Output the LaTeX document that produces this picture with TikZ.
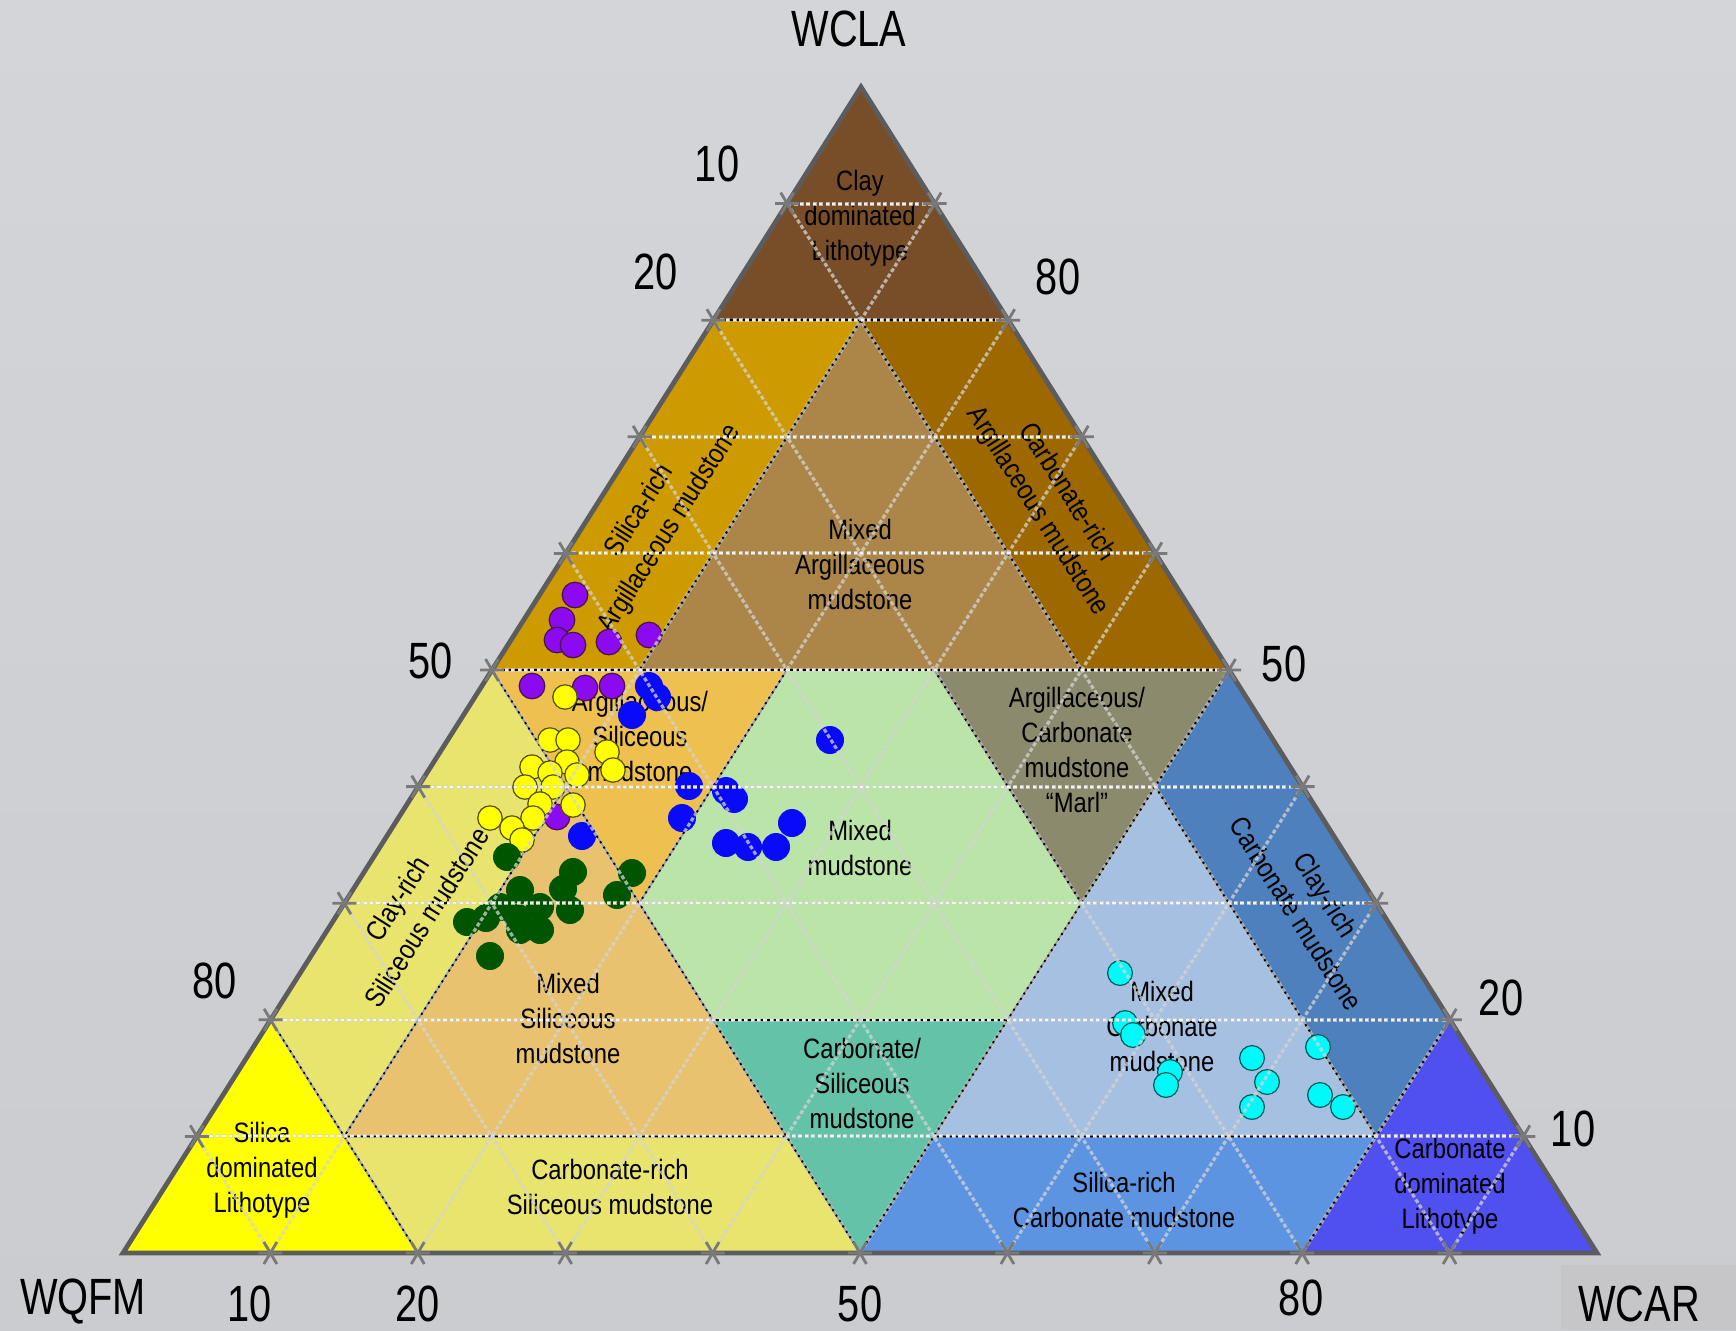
\documentclass[tikz,border=0pt]{standalone}
\usepackage{fontspec}
\setmainfont{Liberation Sans}[FakeStretch=0.85]
\newfontfamily\axisfont{Liberation Sans}[FakeStretch=0.78]
% point of the ternary plot from clay, quartz-feldspar-mica and carbonate fractions
\newcommand\tern[3]{(barycentric cs:A=#1,L=#2,R=#3)}

\definecolor{bgtop}{RGB}{212,213,217}
\definecolor{bgbot}{RGB}{203,204,208}
\definecolor{boxc}{RGB}{198,198,200}
\definecolor{outl}{RGB}{92,92,94}
\definecolor{gridc}{RGB}{212,212,212}
\definecolor{cClayDom}{RGB}{120,78,40}
\definecolor{cSilArg}{RGB}{205,154,0}
\definecolor{cMixArg}{RGB}{172,134,72}
\definecolor{cCarArg}{RGB}{158,104,0}
\definecolor{cArgSil}{RGB}{238,192,80}
\definecolor{cMarl}{RGB}{140,138,108}
\definecolor{cMixMud}{RGB}{186,228,168}
\definecolor{cClaySil}{RGB}{232,228,110}
\definecolor{cMixSil}{RGB}{232,194,110}
\definecolor{cCarbSil}{RGB}{232,228,110}
\definecolor{cSilDom}{RGB}{255,255,0}
\definecolor{cCarSil}{RGB}{100,194,168}
\definecolor{cClayCarb}{RGB}{78,128,190}
\definecolor{cMixCarb}{RGB}{166,192,226}
\definecolor{cSilCarb}{RGB}{92,148,226}
\definecolor{cCarbDom}{RGB}{80,80,240}
\definecolor{cPur}{RGB}{140,10,240}
\definecolor{cPurD}{RGB}{70,20,70}
\definecolor{cYel}{RGB}{255,255,0}
\definecolor{cYelD}{RGB}{80,80,0}
\definecolor{cBlu}{RGB}{10,10,250}
\definecolor{cGrn}{RGB}{0,85,0}
\definecolor{cCya}{RGB}{0,250,250}
\definecolor{cCyaD}{RGB}{0,90,90}

\begin{document}
\begin{tikzpicture}[x=0.5pt,y=-0.5pt,
  bnd/.style={draw=black, line width=0.9pt},
  gridln/.style={draw=gridc, line width=1.6pt, dash pattern=on 2pt off 1.2pt, opacity=0.75},
  gridh/.style={draw=white, line width=1pt, dash pattern=on 1.6pt off 1.6pt, opacity=0.85},
  tickmk/.style={draw=gray!95!black, line width=1.4pt},
  zlab/.style={font=\fontsize{14}{17.5}\selectfont, align=center, inner sep=0pt, text=black},
  axlab/.style={font=\axisfont\fontsize{25.5}{30}\selectfont, inner sep=0pt},
  ptpur/.style={fill=cPur, draw=cPurD, line width=0.6pt},
  ptyel/.style={fill=cYel, draw=cYelD, line width=0.6pt},
  ptblu/.style={fill=cBlu},
  ptgrn/.style={fill=cGrn},
  ptcya/.style={fill=cCya, draw=cCyaD, line width=0.6pt}]

\useasboundingbox (0,0) rectangle (1736,1330);
\shade[top color=bgtop, bottom color=bgbot] (0,0) rectangle (1736,1330);
\fill[boxc] (1561,1265) rectangle (1736,1330);

\coordinate (A) at (861,87);
\coordinate (L) at (123,1253);
\coordinate (R) at (1597,1253);

% classification fields
\fill[cClayDom] \tern{1}{0}{0} -- \tern{.8}{.2}{0} -- \tern{.8}{0}{.2} -- cycle;
\fill[cSilArg] \tern{.8}{.2}{0} -- \tern{.8}{.1}{.1} -- \tern{.5}{.4}{.1} -- \tern{.5}{.5}{0} -- cycle;
\fill[cMixArg] \tern{.8}{.1}{.1} -- \tern{.5}{.4}{.1} -- \tern{.5}{.1}{.4} -- cycle;
\fill[cCarArg] \tern{.8}{0}{.2} -- \tern{.8}{.1}{.1} -- \tern{.5}{.1}{.4} -- \tern{.5}{0}{.5} -- cycle;
\fill[cArgSil] \tern{.5}{.5}{0} -- \tern{.5}{.3}{.2} -- \tern{.3}{.5}{.2} -- cycle;
\fill[cMarl] \tern{.5}{0}{.5} -- \tern{.5}{.2}{.3} -- \tern{.3}{.2}{.5} -- cycle;
\fill[cCarSil] \tern{0}{.5}{.5} -- \tern{.2}{.5}{.3} -- \tern{.2}{.3}{.5} -- cycle;
\fill[cMixMud] \tern{.5}{.3}{.2} -- \tern{.5}{.2}{.3} -- \tern{.3}{.2}{.5} -- \tern{.2}{.3}{.5} -- \tern{.2}{.5}{.3} -- \tern{.3}{.5}{.2} -- cycle;
\fill[cClaySil] \tern{.5}{.5}{0} -- \tern{.4}{.5}{.1} -- \tern{.1}{.8}{.1} -- \tern{.2}{.8}{0} -- cycle;
\fill[cMixSil] \tern{.4}{.5}{.1} -- \tern{.1}{.5}{.4} -- \tern{.1}{.8}{.1} -- cycle;
\fill[cCarbSil] \tern{.1}{.8}{.1} -- \tern{.1}{.5}{.4} -- \tern{0}{.5}{.5} -- \tern{0}{.8}{.2} -- cycle;
\fill[cSilDom] \tern{.2}{.8}{0} -- \tern{0}{1}{0} -- \tern{0}{.8}{.2} -- cycle;
\fill[cClayCarb] \tern{.5}{0}{.5} -- \tern{.4}{.1}{.5} -- \tern{.1}{.1}{.8} -- \tern{.2}{0}{.8} -- cycle;
\fill[cMixCarb] \tern{.4}{.1}{.5} -- \tern{.1}{.4}{.5} -- \tern{.1}{.1}{.8} -- cycle;
\fill[cSilCarb] \tern{.1}{.4}{.5} -- \tern{0}{.5}{.5} -- \tern{0}{.2}{.8} -- \tern{.1}{.1}{.8} -- cycle;
\fill[cCarbDom] \tern{.2}{0}{.8} -- \tern{0}{.2}{.8} -- \tern{0}{0}{1} -- cycle;

% field boundaries
\draw[bnd] \tern{.8}{.2}{0} -- \tern{.8}{0}{.2};
\draw[bnd] \tern{.5}{.5}{0} -- \tern{.5}{0}{.5};
\draw[bnd] \tern{.5}{.4}{.1} -- \tern{.8}{.1}{.1} -- \tern{.5}{.1}{.4};
\draw[bnd] \tern{.5}{.5}{0} -- \tern{0}{.5}{.5} -- \tern{.5}{0}{.5};
\draw[bnd] \tern{.5}{.3}{.2} -- \tern{.3}{.5}{.2};
\draw[bnd] \tern{.5}{.2}{.3} -- \tern{.3}{.2}{.5};
\draw[bnd] \tern{.2}{.5}{.3} -- \tern{.2}{.3}{.5};
\draw[bnd] \tern{.2}{.8}{0} -- \tern{0}{.8}{.2};
\draw[bnd] \tern{.2}{0}{.8} -- \tern{0}{.2}{.8};
\draw[bnd] \tern{.4}{.5}{.1} -- \tern{.1}{.8}{.1} -- \tern{.1}{.5}{.4};
\draw[bnd] \tern{.4}{.1}{.5} -- \tern{.1}{.1}{.8} -- \tern{.1}{.4}{.5};

% field names
\node[zlab] (tClayDom) at (860,218) {Clay\\dominated\\Lithotype};
\node[zlab, rotate=57.6] (tSilArg) at (655,520) {Silica-rich\\Argillaceous mudstone};
\node[zlab] (tMixArg) at (860,564) {Mixed\\Argillaceous\\mudstone};
\node[zlab, rotate=-57.6] (tCarArg) at (1052,502) {Carbonate-rich\\Argillaceous mudstone};
\node[zlab] (tArgSil) at (640,736) {Argillaceous/\\Siliceous\\mudstone};
\node[zlab] (tMixMud) at (860,848) {Mixed\\mudstone};
\node[zlab] (tMarl) at (1077,750) {Argillaceous/\\Carbonate\\mudstone\\“Marl”};
\node[zlab, rotate=57.6] (tClaySil) at (412,908) {Clay-rich\\Siliceous mudstone};
\node[zlab] (tMixSil) at (568,1018) {Mixed\\Siliceous\\mudstone};
\node[zlab] (tSilDom) at (262,1170) {Silica\\dominated\\Lithotype};
\node[zlab] (tCarbSil) at (610,1187) {Carbonate-rich\\Siliceous mudstone};
\node[zlab] (tCarSil) at (862,1083) {Carbonate/\\Siliceous\\mudstone};
\node[zlab] (tMixCarb) at (1162,1026) {Mixed\\Carbonate\\mudstone};
\node[zlab, rotate=-57.6] (tClayCarb) at (1311,904) {Clay-rich\\Carbonate mudstone};
\node[zlab] (tSilCarb) at (1124,1200) {Silica-rich\\Carbonate mudstone};
\node[zlab] (tCarbDom) at (1450,1186) {Carbonate\\dominated\\Lithotype};

% samples
\foreach \x/\y in {575/595,562/620,557/640,573/645,609/642,649/635,532/686,585/688,612/686,557/817}
  \path[ptpur] (\x,\y) circle[radius=6.4pt];
\foreach \x/\y in {565/697,550/740,568/740,607/752,613/770,567/762,532/767,550/773,577/775,525/787,553/787,540/804,573/805,533/818,490/818,512/828,522/840}
  \path[ptyel] (\x,\y) circle[radius=6.1pt];
\foreach \x/\y in {649/686,657/697,632/715,689/786,726/791,734/799,682/818,582/836,726/843,748/847,776/847,792/823,830/740}
  \path[ptblu] (\x,\y) circle[radius=7pt];
\foreach \x/\y in {507/857,573/872,632/873,520/890,563/889,617/895,500/907,540/907,570/910,467/922,486/918,518/918,540/930,490/956,520/930}
  \path[ptgrn] (\x,\y) circle[radius=7pt];
\foreach \x/\y in {1120/973,1125/1023,1133/1035,1170/1072,1166/1085,1252/1058,1267/1082,1252/1107,1318/1047,1320/1095,1343/1107}
  \path[ptcya] (\x,\y) circle[radius=6.2pt];

% 10 % grid in the three directions
\foreach \k in {1,...,9}{
  \pgfmathsetmacro\i{\k/10}
  \pgfmathsetmacro\j{1-\k/10}
  \draw[gridln] \tern{\j}{\i}{0} -- \tern{0}{\i}{\j};
  \draw[gridln] \tern{\j}{0}{\i} -- \tern{0}{\j}{\i};
  \draw[gridln, line width=2pt] \tern{\i}{\j}{0} -- \tern{\i}{0}{\j};
  \draw[gridh, yshift=0.5pt] \tern{\i}{\j}{0} -- \tern{\i}{0}{\j};
}

% outline of the diagram
\draw[draw=outl, line width=2.4pt, line join=miter] (A) -- (L) -- (R) -- cycle;

% tick marks on the three sides
\foreach \k in {1,...,9}{
  \pgfmathsetmacro\i{\k/10}
  \pgfmathsetmacro\j{1-\k/10}
  \foreach \pt in {\tern{\j}{\i}{0}, \tern{\j}{0}{\i}, \tern{0}{\j}{\i}}{
    \draw[tickmk] \pt ++(-12,0) -- ++(24,0) \pt ++(-6.5,-11) -- ++(13,22) \pt ++(6.5,-11) -- ++(-13,22);
  }
}

% axis names and scale values
\node[axlab] (nCla) at (849,29) {WCLA};
\node[axlab] (nQfm) at (83,1301) {WQFM};
\node[axlab] (nCar) at (1639,1304) {WCAR};
\node[axlab] (l10) at (717,164) {10};
\node[axlab] (l20) at (656,272) {20};
\node[axlab] (l50) at (431,661) {50};
\node[axlab] (l80) at (215,981) {80};
\node[axlab] (r80) at (1058,277) {80};
\node[axlab] (r50) at (1284,664) {50};
\node[axlab] (r20) at (1501,998) {20};
\node[axlab] (r10) at (1573,1129) {10};
\node[axlab] (b10) at (250,1304) {10};
\node[axlab] (b20) at (418,1304) {20};
\node[axlab] (b50) at (860,1304) {50};
\node[axlab] (b80) at (1301,1298) {80};
\end{tikzpicture}
\end{document}
